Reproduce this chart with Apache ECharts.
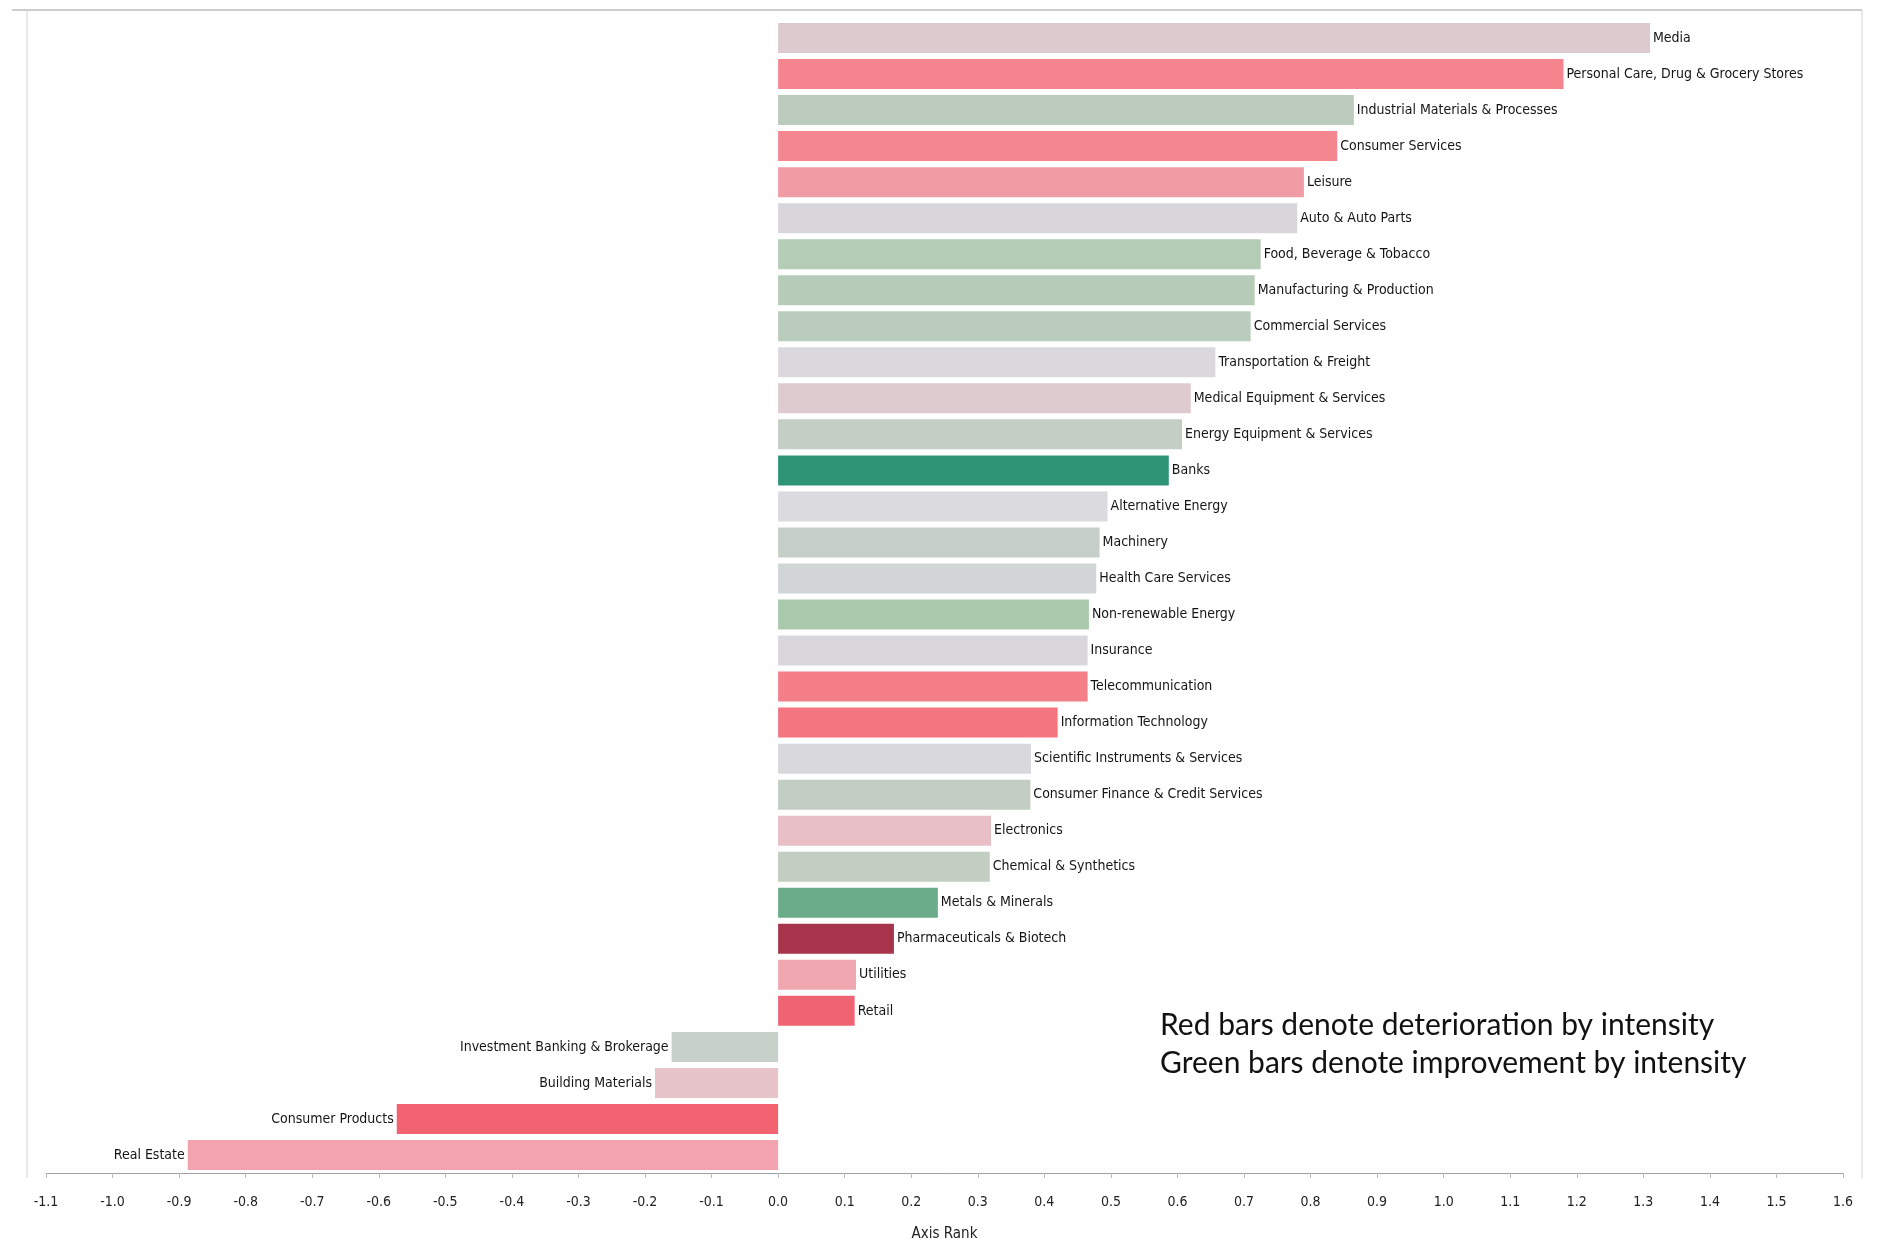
<!DOCTYPE html>
<html>
<head>
<meta charset="utf-8">
<script src="https://cdn.jsdelivr.net/npm/echarts@6/dist/echarts.min.js"></script>
<style>
html,body{margin:0;padding:0;background:#fff;}
#chart{width:1879px;height:1247px;}
</style>
</head>
<body>
<div id="chart"></div>
<script>
const categories = [
  "Media","Personal Care, Drug & Grocery Stores","Industrial Materials & Processes","Consumer Services",
  "Leisure","Auto & Auto Parts","Food, Beverage & Tobacco","Manufacturing & Production",
  "Commercial Services","Transportation & Freight","Medical Equipment & Services","Energy Equipment & Services",
  "Banks","Alternative Energy","Machinery","Health Care Services",
  "Non-renewable Energy","Insurance","Telecommunication","Information Technology",
  "Scientific Instruments & Services","Consumer Finance & Credit Services","Electronics","Chemical & Synthetics",
  "Metals & Minerals","Pharmaceuticals & Biotech","Utilities","Retail",
  "Investment Banking & Brokerage","Building Materials","Consumer Products","Real Estate"
];
const axisRank = [
  1.31, 1.18, 0.865, 0.84,
  0.79, 0.78, 0.725, 0.716,
  0.71, 0.657, 0.62, 0.607,
  0.587, 0.495, 0.483, 0.478,
  0.467, 0.465, 0.465, 0.42,
  0.38, 0.379, 0.32, 0.318,
  0.24, 0.174, 0.117, 0.115,
  -0.16, -0.185, -0.573, -0.887
];
const barColors = [
  "#dccacf","#f4858f","#bdcbbd","#f3868f",
  "#f19ba5","#d9d6db","#b5ccb7","#b7cbb9",
  "#bacdbc","#dad8dc","#decbd0","#c4cec5",
  "#2f9474","#dbdadf","#c6cfc7","#d2d5d5",
  "#a9c9ad","#d9d7db","#f47f89","#f4747f",
  "#d9d8db","#c2cdc3","#e8bfc6","#c2cec2",
  "#6aab8a","#a6344a","#f1a7b0","#ef6373",
  "#c8d0ca","#e6c4ca","#f26371","#f3a3ae"
];
const annotationLines = [
  "Red bars denote deterioration by intensity",
  "Green bars denote improvement by intensity"
];
const axisTitle = "Axis Rank";

const chart = echarts.init(document.getElementById('chart'), null, {renderer:'canvas'});
const narrow = "'Liberation Sans Narrow','DejaVu Sans Condensed','Arial Narrow',sans-serif";

const seriesData = axisRank.map((v, i) => ({
  value: v,
  itemStyle: { color: barColors[i] },
  label: { position: v < 0 ? 'left' : 'right' }
}));

chart.setOption({
  backgroundColor: '#ffffff',
  animation: false,
  grid: { left: 46, right: 36, top: 20, bottom: 69, containLabel: false },
  xAxis: {
    type: 'value',
    min: -1.1, max: 1.6, interval: 0.1,
    name: axisTitle,
    nameLocation: 'middle',
    nameGap: 54,
    nameTextStyle: { fontFamily: narrow, fontSize: 15, color: '#222' },
    axisLine: { show: true, lineStyle: { color: '#a0a0a0', width: 1 } },
    axisTick: { show: true, length: 5, lineStyle: { color: '#bbb' } },
    axisLabel: {
      fontFamily: narrow, fontSize: 14, color: '#222', margin: 22,
      formatter: v => (Math.round(v * 10) / 10).toFixed(1)
    },
    splitLine: { show: false }
  },
  yAxis: {
    type: 'category',
    data: categories,
    inverse: true,
    axisLine: { show: false },
    axisTick: { show: false },
    axisLabel: { show: false },
    splitLine: { show: false }
  },
  series: [{
    type: 'bar',
    data: seriesData,
    barWidth: 30,
    label: {
      show: true,
      formatter: p => categories[p.dataIndex],
      fontFamily: narrow,
      fontSize: 14,
      color: '#151515',
      distance: 3
    }
  }],
  graphic: [
    { type: 'line', shape: { x1: 12, y1: 10, x2: 1862, y2: 10 }, style: { stroke: '#9a9a9a', lineWidth: 1 } },
    { type: 'line', shape: { x1: 27, y1: 10, x2: 27, y2: 1178 }, style: { stroke: '#d4d4d4', lineWidth: 1 } },
    { type: 'line', shape: { x1: 1862, y1: 10, x2: 1862, y2: 1178 }, style: { stroke: '#d4d4d4', lineWidth: 1 } },
    { type: 'text', left: 1160, top: 1010, style: { text: annotationLines[0], font: "30px Lato, 'Open Sans', sans-serif", fill: '#111' } },
    { type: 'text', left: 1160, top: 1048, style: { text: annotationLines[1], font: "30px Lato, 'Open Sans', sans-serif", fill: '#111' } }
  ]
});
</script>
</body>
</html>
